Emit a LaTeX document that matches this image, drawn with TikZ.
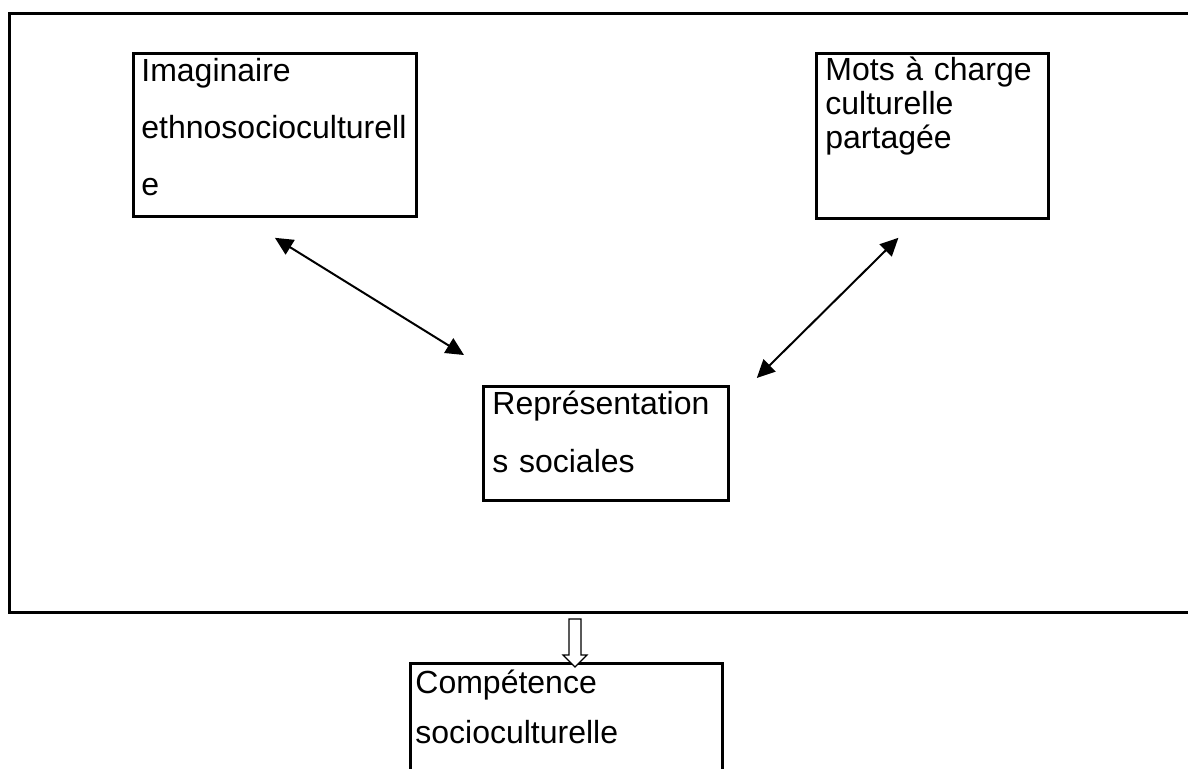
\documentclass[tikz,border=0pt]{standalone}
\usepackage{fontspec}
\setmainfont{Liberation Sans}
\usetikzlibrary{arrows.meta,positioning,calc}
\tikzset{
  frame/.style={draw=black, line width=1.5pt},
  box/.style={rectangle, draw=black, line width=1.4pt, inner sep=0pt, anchor=north west},
  boxtext/.style={anchor=base west, inner sep=0pt, align=left},
  dblarrow/.style={{Triangle[length=9pt,width=8.5pt]}-{Triangle[length=9pt,width=8.5pt]}, line width=1pt},
  hollowarrow/.style={draw=black, line width=0.6pt, fill=white}
}

\begin{document}
\begin{tikzpicture}[x=0.5pt, y=-0.5pt]
  \useasboundingbox (0,0) rectangle (1188,768);
  % outer frame, open on the right
  \draw[frame] (1200,13) -- (9,13) -- (9,612) -- (1200,612);

  \node[box, minimum width=141.5pt, minimum height=81.5pt] (imag) at (132,52) {};
  \node[box, minimum width=116pt, minimum height=82.5pt] (mots) at (815,52) {};
  \node[box, minimum width=122.5pt, minimum height=57pt] (repr) at (482,385) {};
  \node[box, minimum width=156pt, minimum height=69pt] (comp) at (409,662) {};

  \node[boxtext, text width=135pt, font=\fontsize{16}{28.5}\selectfont] (imag-txt) at (141,81)
    {Imaginaire\\ethnosocioculturell\\e};
  \node[boxtext, text width=110pt, font=\fontsize{16}{17}\selectfont] (mots-txt) at (825,80)
    {\makebox[103.5pt][s]{Mots à charge}\\culturelle\\partagée};
  \node[boxtext, text width=115pt, font=\fontsize{16}{29}\selectfont] (repr-txt) at (492,414)
    {Représentation\\s sociales};
  \node[boxtext, text width=150pt, font=\fontsize{16}{25}\selectfont] (comp-txt) at (415,693)
    {Compétence\\socioculturelle};

  \coordinate (imag-end) at ([shift={(0,20)}]imag.south);
  \coordinate (repr-l) at ([shift={(-18,-30)}]repr.north west);
  \coordinate (mots-end) at ([shift={(-34,18)}]mots.south);
  \coordinate (repr-r) at ([shift={(27,-7)}]repr.north east);
  \draw[dblarrow] (imag-end) -- (repr-l);
  \draw[dblarrow] (mots-end) -- (repr-r);

  % hollow arrow down to the last box
  \draw[hollowarrow] (569,619) -- (581,619) -- (581,655) -- (587,655) -- (575,667)
    -- (563,655) -- (569,655) -- cycle;
\end{tikzpicture}
\end{document}
